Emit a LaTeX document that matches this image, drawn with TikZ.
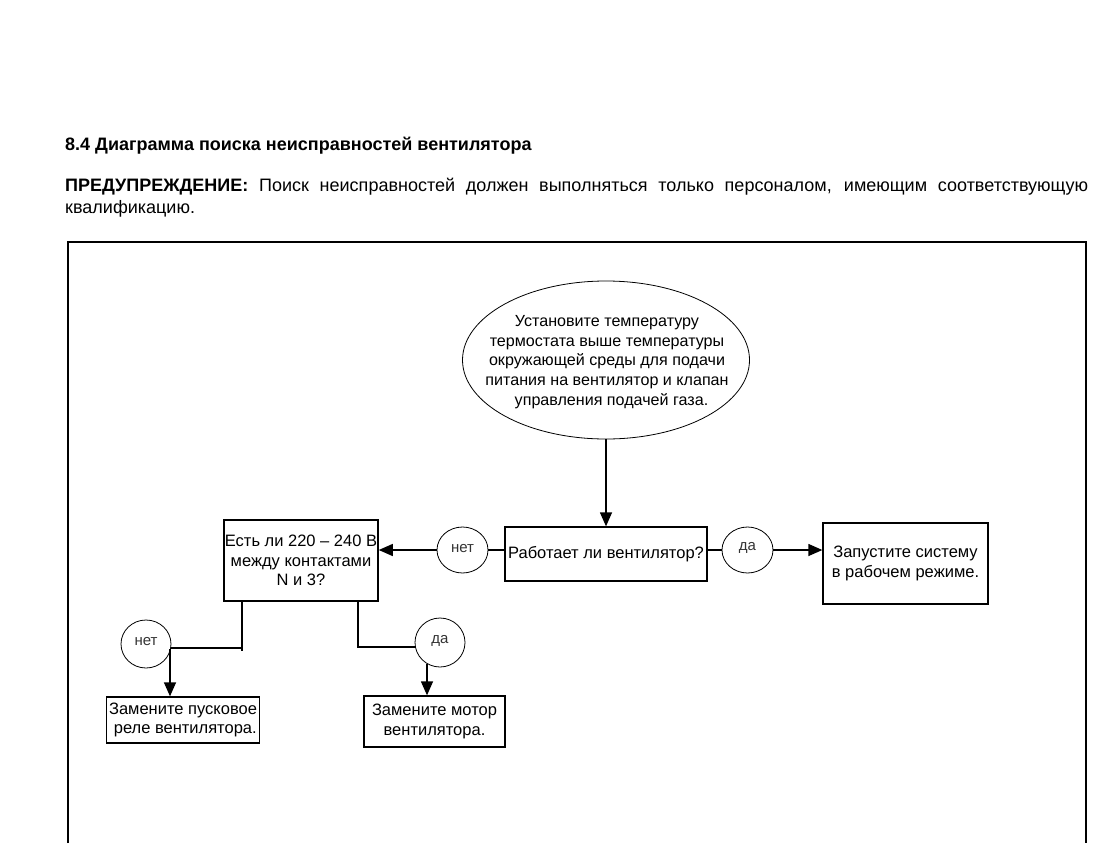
\documentclass[tikz,border=0pt]{standalone}
\usepackage{fontspec}
\setmainfont{Liberation Sans}
\usetikzlibrary{arrows.meta,shapes.geometric}
\tikzset{
  box/.style={draw, line width=1.3pt, inner sep=1pt, align=center, font=\fontsize{16.5}{19.5}\selectfont},
  lbl/.style={draw, line width=0.8pt, ellipse, inner sep=0pt, font=\fontsize{15}{17}\selectfont, text=black!80},
  ln/.style={line width=1.3pt},
  arr/.style={line width=1.3pt, -{Triangle[width=12pt,length=14pt]}},
}
\begin{document}
\begin{tikzpicture}[x=1pt,y=-1pt]
\useasboundingbox (0,0) rectangle (1102,843);
% header texts
\node[anchor=base west, inner sep=0pt, font=\fontsize{18}{22}\selectfont\bfseries] (title) at (65,150) {8.4 Диаграмма поиска неисправностей вентилятора};
\node[anchor=base west, inner sep=0pt, font=\fontsize{18}{22}\selectfont] (warn) at (65,191.5) {\parbox[t]{1023pt}{\textbf{ПРЕДУПРЕЖДЕНИЕ:} Поиск неисправностей должен выполняться только персоналом, имеющим соответствующую квалификацию.}};
% frame
\draw[line width=1.3pt] (68,843) -- (68,242) -- (1086,242) -- (1086,843);
% start ellipse
\node[draw, line width=0.8pt, ellipse, minimum width=287pt, minimum height=158pt, inner sep=0pt] (start) at (606,360) {};
\node[align=center, inner sep=0pt, font=\fontsize{16.1}{19.7}\selectfont] (starttext) at (607,362) {Установите температуру\\термостата выше температуры\\окружающей среды для подачи\\питания на вентилятор и клапан\\\ \ управления подачей газа.};
% boxes
\node[box, minimum width=202pt, minimum height=54pt] (works) at (606,554) {Работает ли вентилятор?};
\node[box, minimum width=154pt, minimum height=81pt] (volt) at (301,560.5) {Есть ли 220 – 240 В\\между контактами\\N и 3?};
\node[box, minimum width=165pt, minimum height=81pt] (run) at (905.5,563.5) {Запустите систему\\в рабочем режиме.};
\node[box, minimum width=153pt, minimum height=46pt] (relay) at (183,720) {Замените пусковое\\\ реле вентилятора.};
\node[box, minimum width=141pt, minimum height=51pt] (motor) at (434.5,721.5) {Замените мотор\\вентилятора.};
% yes/no labels
\node[lbl, minimum width=51pt, minimum height=46pt] (no1) at (462.5,550) {\raisebox{4pt}{нет}};
\node[lbl, minimum width=51pt, minimum height=46pt] (yes1) at (747.5,550) {\raisebox{7pt}{да}};
\node[lbl, minimum width=50pt, minimum height=48pt] (no2) at (146,644) {\raisebox{6pt}{нет}};
\node[lbl, minimum width=50pt, minimum height=49pt] (yes2) at (440,642.5) {\raisebox{6pt}{да}};
% connectors
\draw[arr] (start.south -| works.north) -- (works.north);
\draw[ln] (works.west |- no1.east) -- (no1.east);
\draw[arr] (no1.west) -- (no1.west -| volt.east);
\draw[ln] (works.east |- yes1.west) -- (yes1.west);
\draw[arr] (yes1.east) -- (yes1.east -| run.west);
\coordinate (vl) at (242,651);
\draw[ln] (volt.south -| vl) -- (vl);
\coordinate (hl) at (242,648);
\draw[ln] (hl) -- (hl -| no2.east);
\coordinate (al) at (170,649);
\draw[arr] (al) -- (al |- relay.north);
\coordinate (vr) at (358,647);
\draw[ln] (volt.south -| vr) -- (vr) -- (vr -| yes2.west);
\coordinate (ar) at (427,664);
\draw[arr] (ar) -- (ar |- motor.north);
\end{tikzpicture}
\end{document}
